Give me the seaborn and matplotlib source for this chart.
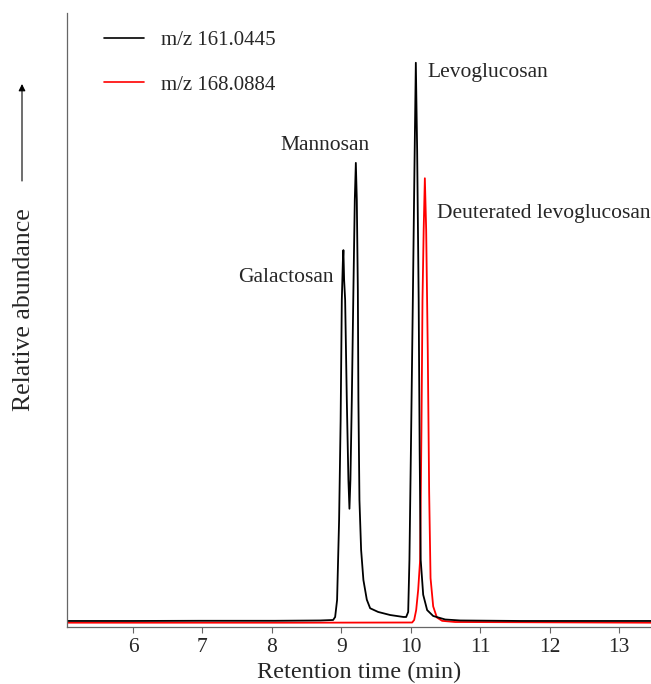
import numpy as np
import pandas as pd
import matplotlib
matplotlib.use("Agg")
import matplotlib.pyplot as plt
import seaborn as sns
from matplotlib.lines import Line2D
from matplotlib.patches import FancyArrowPatch

# Extracted-ion chromatogram traces (retention time in min, relative abundance in %)
black_time = [5.049, 6.000, 6.965, 8.046, 8.695, 8.882, 8.911, 8.939, 8.968, 8.990,
              9.007, 9.022, 9.030, 9.040, 9.055, 9.079, 9.102, 9.117, 9.131, 9.151,
              9.174, 9.194, 9.209, 9.223, 9.238, 9.246, 9.261, 9.285, 9.318, 9.367,
              9.415, 9.530, 9.703, 9.895, 9.934, 9.963, 9.981, 10.006, 10.030, 10.053,
              10.073, 10.092, 10.114, 10.128, 10.143, 10.179, 10.236, 10.323, 10.496,
              10.712, 11.576, 13.460]
black_abund = [1.03, 1.03, 1.06, 1.06, 1.11, 1.19, 1.68, 4.44, 17.5, 33.7,
               53.3, 59.5, 61.4, 56.6, 53.3, 37.0, 24.0, 19.3, 24.0, 37.0,
               54.9, 69.6, 75.6, 69.6, 54.9, 37.0, 20.7, 12.6, 7.7, 4.5,
               3.1, 2.5, 2.0, 1.68, 1.68, 2.5, 11.0, 32.1, 53.3, 74.5,
               91.9, 77.7, 53.3, 28.9, 11.0, 5.3, 2.8, 1.84, 1.27,
               1.11, 1.03, 1.03]

red_time = [5.049, 8.406, 10.020, 10.049, 10.078, 10.107, 10.135, 10.154, 10.169,
            10.186, 10.203, 10.222, 10.245, 10.265, 10.285, 10.323, 10.376, 10.452,
            10.640, 13.460]
red_abund = [0.75, 0.75, 0.78, 1.19, 2.8, 6.1, 11.0, 32.1, 53.3,
             64.7, 73.1, 64.7, 45.0, 22.0, 8.0, 3.4, 1.6, 1.05,
             0.86, 0.75]

trace_names = ["m/z 161.0445", "m/z 168.0884"]
trace_colors = ["#000000", "#ff0000"]

peak_names = ["Galactosan", "Mannosan", "Levoglucosan", "Deuterated levoglucosan"]
x_ticks = [6, 7, 8, 9, 10, 11, 12, 13]

df = pd.concat([
    pd.DataFrame({"time": black_time, "abundance": black_abund, "trace": trace_names[0]}),
    pd.DataFrame({"time": red_time, "abundance": red_abund, "trace": trace_names[1]}),
], ignore_index=True)

sns.set_style("ticks")
plt.rcParams["font.family"] = ["Liberation Serif", "DejaVu Serif"]

fig = plt.figure(figsize=(6.51, 6.84), dpi=100)
ax = fig.add_axes([0.1029, 0.0829, 0.8971, 0.8981])

sns.lineplot(data=df, x="time", y="abundance", hue="trace",
             palette=dict(zip(trace_names, trace_colors)),
             hue_order=trace_names[::-1], sort=False, estimator=None,
             linewidth=1.3, ax=ax, legend=False)

ax.set_xlim(5.049, 13.46)
ax.set_ylim(0, 100)
ax.set_xticks(x_ticks)
ax.set_xticklabels([str(t) for t in x_ticks], fontsize=15.5)
ax.set_yticks([])
ax.tick_params(axis="x", direction="out", length=4, width=0.8, color="#666666", pad=4)

for side in ["top", "right"]:
    ax.spines[side].set_visible(False)
for side in ["left", "bottom"]:
    ax.spines[side].set_color("#666666")
    ax.spines[side].set_linewidth(0.9)

ax.set_xlabel("Retention time (min)", fontsize=17.5, labelpad=3)
ax.set_ylabel("")

# legend
handles = [Line2D([], [], color=c, linewidth=1.2) for c in trace_colors]
ax.legend(handles, trace_names, loc="upper left", bbox_to_anchor=(96 / 651, 1 - 22 / 684),
          bbox_transform=fig.transFigure, frameon=False, fontsize=15,
          handlelength=1.9, handletextpad=0.8, labelspacing=1.2, borderaxespad=0)

# peak annotations
ax.text(8.885, 57.0, peak_names[0], ha="right", va="center", fontsize=15.5)
ax.text(8.77, 78.5, peak_names[1], ha="center", va="center", fontsize=15.5)
ax.text(10.24, 90.3, peak_names[2], ha="left", va="center", fontsize=15.5)
ax.text(10.375, 67.3, peak_names[3], ha="left", va="center", fontsize=15.5)

# vertical axis title with upward arrow
fig.text(24 / 651, 1 - 310 / 684, "Relative abundance", rotation=90,
         ha="center", va="center", fontsize=18.5)
fig.add_artist(FancyArrowPatch(
    (22 / 651, 1 - 181 / 684), (22 / 651, 1 - 84 / 684), transform=fig.transFigure,
    arrowstyle="-|>,head_length=4,head_width=2", color="black", linewidth=0.8,
    shrinkA=0, shrinkB=0))

fig.savefig("out.png", dpi=100)
